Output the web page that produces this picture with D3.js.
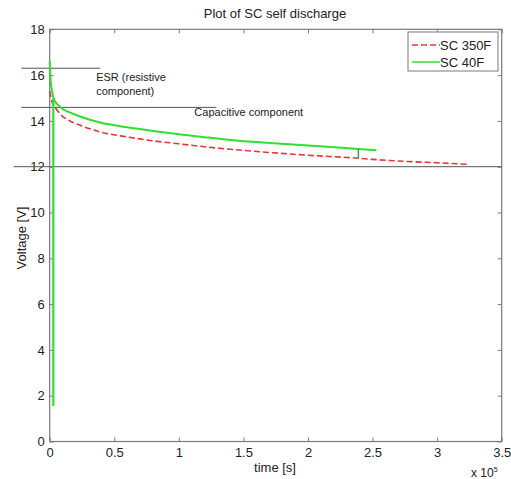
<!DOCTYPE html>
<html><head><meta charset="utf-8">
<script src="https://cdn.jsdelivr.net/npm/d3@7"></script>
<style>body{margin:0;background:#fff}svg{display:block}text{font-family:"Liberation Sans",Arial,sans-serif}</style>
</head><body>
<svg id="c" width="511" height="479"></svg>
<script>
// ---- data ----
const xTicks = [0, 0.5, 1, 1.5, 2, 2.5, 3, 3.5];
const yTicks = [0, 2, 4, 6, 8, 10, 12, 14, 16, 18];
const seriesNames = ["SC 350F", "SC 40F"];
// SC 350F (time in 1e5 s, voltage V)
const t350 = [0, 0.005, 0.01, 0.02, 0.04, 0.07, 0.1, 0.15, 0.24, 0.39, 0.6, 0.8, 1.0, 1.2, 1.4, 1.7, 2.0, 2.39, 2.5, 2.8, 3.0, 3.25];
const v350 = [15.3, 15.15, 15.0, 14.8, 14.6, 14.38, 14.2, 14.02, 13.8, 13.52, 13.3, 13.13, 13.0, 12.87, 12.76, 12.62, 12.5, 12.37, 12.32, 12.22, 12.17, 12.1];
// SC 40F
const t40 = [0, 0.003, 0.006, 0.01, 0.02, 0.03, 0.06, 0.08, 0.1, 0.15, 0.24, 0.39, 0.6, 0.8, 1.0, 1.2, 1.4, 1.7, 2.0, 2.39, 2.53];
const v40 = [16.6, 16.2, 15.9, 15.6, 15.25, 15.0, 14.72, 14.62, 14.52, 14.38, 14.18, 13.93, 13.72, 13.56, 13.42, 13.29, 13.17, 13.04, 12.93, 12.77, 12.72];
// SC 40F charge step (vertical segment)
const chargeT = [0.028, 0.028];
const chargeV = [1.55, 15.0];
// drop marker between curves
const markT = [2.39, 2.39];
const markV = [12.77, 12.37];
// reference lines [x0, x1, v]
const refX0 = [-0.22, -0.22, -0.28];
const refX1 = [0.39, 1.29, 3.5];
const refV = [16.3, 14.59, 12];
const annoText = ["ESR (resistive", "component)", "Capacitive component"];
const annoT = [0.36, 0.36, 1.12];
const annoV = [15.75, 15.13, 14.22];

// ---- chart ----
const svg = d3.select("#c");
const x = d3.scaleLinear().domain([0, 3.5]).range([49.7, 501.7]);
const y = d3.scaleLinear().domain([0, 18]).range([441.5, 29.3]);
const axisCol = "#7a7a7a";

// box
svg.append("rect").attr("x", x(0)).attr("y", y(18)).attr("width", x(3.5) - x(0)).attr("height", y(0) - y(18))
  .attr("fill", "#fff").attr("stroke", axisCol).attr("stroke-width", 1.2);

function styleAxis(g) {
  g.select(".domain").remove();
  g.selectAll(".tick line").attr("stroke", axisCol);
  g.selectAll(".tick text").attr("fill", "#222").style("font-size", "13px").style("font-family", '"Liberation Sans",Arial,sans-serif');
}
svg.append("g").attr("transform", `translate(0,${y(0)})`)
  .call(d3.axisBottom(x).tickValues(xTicks).tickFormat(d => d3.format("")(d)).tickSize(-4).tickPadding(6)).call(styleAxis);
svg.append("g").attr("transform", `translate(0,${y(18)})`)
  .call(d3.axisTop(x).tickValues(xTicks).tickSize(-4).tickFormat("")).call(styleAxis);
svg.append("g").attr("transform", `translate(${x(0)},0)`)
  .call(d3.axisLeft(y).tickValues(yTicks).tickSize(-4).tickPadding(5)).call(styleAxis);
svg.append("g").attr("transform", `translate(${x(3.5)},0)`)
  .call(d3.axisRight(y).tickValues(yTicks).tickSize(-4).tickFormat("")).call(styleAxis);

// reference lines
refV.forEach((v, i) => {
  svg.append("line").attr("x1", x(refX0[i])).attr("x2", x(refX1[i])).attr("y1", y(v)).attr("y2", y(v))
    .attr("stroke", "#555").attr("stroke-width", 1);
});

const line = d3.line().x(d => x(d[0])).y(d => y(d[1]));
const smooth = d3.line().x(d => x(d[0])).y(d => y(d[1])).curve(d3.curveMonotoneX);
const red = "#e8333a", green = "#30e030";
svg.append("path").datum(t350.map((t, i) => [t, v350[i]])).attr("d", smooth)
  .attr("fill", "none").attr("stroke", red).attr("stroke-width", 1.6).attr("stroke-dasharray", "6,3");
svg.append("path").datum(chargeT.map((t, i) => [t, chargeV[i]])).attr("d", line)
  .attr("fill", "none").attr("stroke", green).attr("stroke-width", 2.2);
svg.append("path").datum(t40.map((t, i) => [t, v40[i]])).attr("d", smooth)
  .attr("fill", "none").attr("stroke", green).attr("stroke-width", 2);
svg.append("path").datum(markT.map((t, i) => [t, markV[i]])).attr("d", line)
  .attr("fill", "none").attr("stroke", "#22b822").attr("stroke-width", 1.5);

// annotations
annoText.forEach((s, i) => {
  svg.append("text").attr("x", x(annoT[i])).attr("y", y(annoV[i])).text(s)
    .attr("fill", "#222").style("font-size", "11px");
});

// title & labels
svg.append("text").attr("x", 275).attr("y", 18).attr("text-anchor", "middle").text("Plot of SC self discharge")
  .attr("fill", "#222").style("font-size", "13px");
svg.append("text").attr("x", 275).attr("y", 472).attr("text-anchor", "middle").text("time [s]")
  .attr("fill", "#222").style("font-size", "13px");
svg.append("text").attr("transform", "translate(26,238) rotate(-90)").attr("text-anchor", "middle").text("Voltage [V]")
  .attr("fill", "#222").style("font-size", "13px");
const ex = svg.append("text").attr("x", 471).attr("y", 477).attr("fill", "#222").style("font-size", "12px");
ex.append("tspan").text("x 10");
ex.append("tspan").attr("dy", -5).style("font-size", "7px").text("5");

// legend
const lg = svg.append("g");
lg.append("rect").attr("x", 408).attr("y", 32).attr("width", 90).attr("height", 39)
  .attr("fill", "#fff").attr("stroke", axisCol).attr("stroke-width", 1);
const legCols = [red, green], legDash = ["6,3", null];
seriesNames.forEach((n, i) => {
  const ly = 45 + i * 17;
  lg.append("line").attr("x1", 412).attr("x2", 440).attr("y1", ly).attr("y2", ly)
    .attr("stroke", legCols[i]).attr("stroke-width", 1.5).attr("stroke-dasharray", legDash[i]);
  lg.append("text").attr("x", 440).attr("y", ly + 4.5).text(n).attr("fill", "#222").style("font-size", "13px");
});
</script>
</body></html>
